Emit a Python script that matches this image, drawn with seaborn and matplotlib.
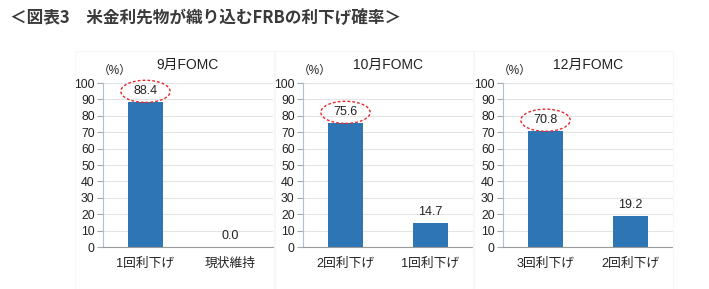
import matplotlib
matplotlib.use("Agg")
import matplotlib.pyplot as plt
from matplotlib.patches import Ellipse, Rectangle
import seaborn as sns
import pandas as pd

sns.set_theme(style="white")
plt.rcParams['font.family'] = ['Liberation Sans', 'Noto Sans CJK JP', 'DejaVu Sans']

main_title = "＜図表3　米金利先物が織り込むFRBの利下げ確率＞"
panel_titles = ["9月FOMC", "10月FOMC", "12月FOMC"]
categories = [["1回利下げ", "現状維持"], ["2回利下げ", "1回利下げ"], ["3回利下げ", "2回利下げ"]]
values = [[88.4, 0.0], [75.6, 14.7], [70.8, 19.2]]
yticks = [0, 10, 20, 30, 40, 50, 60, 70, 80, 90, 100]
unit_label = "（%）"

W, H = 709, 289
fig = plt.figure(figsize=(W / 100, H / 100), dpi=100)

fig.text(10 / W, 1 - 18 / H, main_title, fontsize=12, fontweight='bold',
         color='#3a3a3a', family=['Noto Sans CJK JP'], va='center', ha='left')

# faint panel frames
for x0 in [75, 274, 473]:
    fig.add_artist(Rectangle((x0 / W, 0), 200 / W, 1 - 51 / H, transform=fig.transFigure,
                             fill=False, ec='#f7f7f7', lw=0.8))

bar_color = '#2e75b6'
lefts = [103, 303, 503]
for i in range(3):
    ax = fig.add_axes([lefts[i] / W, 1 - 247 / H, 170 / W, 164 / H])
    df = pd.DataFrame({"cat": categories[i], "val": values[i]})
    sns.barplot(data=df, x="cat", y="val", ax=ax, color=bar_color, width=0.41,
                saturation=1, edgecolor='none')
    ax.set_xlim(-0.5, 1.5)
    ax.set_ylim(0, 100)
    ax.set_yticks(yticks)
    ax.set_yticklabels([str(t) for t in yticks], fontsize=8.8, color='#222222')
    ax.set_xlabel("")
    ax.set_ylabel("")
    ax.tick_params(axis='x', length=0, pad=8, labelsize=9.2, colors='#222222')
    ax.tick_params(axis='y', length=4, width=0.8, color='#a0a8b4', pad=2, left=True)
    for lab in ax.get_xticklabels():
        lab.set_family(['Liberation Sans', 'Noto Sans CJK JP'])
    ax.grid(axis='y', color='#e4e4e4', lw=0.8)
    ax.set_axisbelow(True)
    for s in ['top', 'right']:
        ax.spines[s].set_visible(False)
    ax.spines['left'].set_color('#b4bfcc')
    ax.spines['left'].set_linewidth(0.8)
    ax.spines['bottom'].set_color('#9a9a9a')
    ax.spines['bottom'].set_linewidth(0.8)
    ax.set_title(panel_titles[i], fontsize=10, color='#222222', pad=10)
    ax.text(-0.03, 1.035, unit_label, transform=ax.transAxes, fontsize=8.5,
            ha='left', va='bottom', color='#222222')
    for j, v in enumerate(values[i]):
        ax.annotate(f"{v:.1f}", (j, v), xytext=(0, 3.5), textcoords='offset points',
                    ha='center', va='bottom', fontsize=9, color='#222222')
    # highlight ellipse on the largest value
    top = values[i][0]
    ax.add_patch(Ellipse((0, top + 6.5), 0.58, 13.5, fill=False, ec='#e8262a',
                         ls=(0, (2, 1.5)), lw=1.0, clip_on=False, zorder=5))

fig.savefig("out.png", dpi=100)
